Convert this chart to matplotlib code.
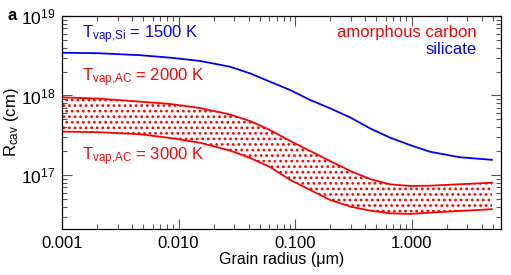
import matplotlib
matplotlib.use("Agg")
import matplotlib.pyplot as plt
from matplotlib.ticker import FixedLocator, FormatStrFormatter, LogLocator, NullFormatter

plt.rcParams['font.family'] = ['Liberation Sans', 'DejaVu Sans']
plt.rcParams['mathtext.fontset'] = 'custom'
plt.rcParams['mathtext.rm'] = 'Liberation Sans'
plt.rcParams['mathtext.it'] = 'Liberation Sans'
plt.rcParams['hatch.linewidth'] = 1.2

# grain radius (micron)
radius = [0.001, 0.0021, 0.0047, 0.0085, 0.0153, 0.0277, 0.041, 0.061, 0.091, 0.135, 0.20,
          0.30, 0.44, 0.65, 0.97, 1.44, 2.6, 4.9]
# cavity radius (cm)
r_si_1500 = [3.45e18, 3.40e18, 3.21e18, 2.99e18, 2.72e18, 2.30e18, 1.90e18, 1.49e18, 1.17e18,
             8.77e17, 6.90e17, 5.26e17, 3.86e17, 2.96e17, 2.38e17, 1.96e17, 1.67e17, 1.55e17]
r_ac_2000 = [9.48e17, 9.12e17, 8.36e17, 7.82e17, 6.96e17, 5.77e17, 4.78e17, 3.68e17, 2.68e17,
             2.00e17, 1.50e17, 1.12e17, 8.9e16, 7.64e16, 7.27e16, 7.33e16, 7.64e16, 8.00e16]
r_ac_3000 = [3.51e17, 3.45e17, 3.25e17, 2.92e17, 2.54e17, 2.03e17, 1.64e17, 1.26e17, 8.65e16,
             6.47e16, 4.85e16, 3.99e16, 3.56e16, 3.30e16, 3.23e16, 3.36e16, 3.52e16, 3.71e16]
xtick_vals = [0.001, 0.01, 0.1, 1.0]

fig = plt.figure(figsize=(5.11, 2.75), dpi=100)
ax = fig.add_axes([62/511, 1-229/275, 439/511, 213/275])

ax.fill_between(radius, r_ac_3000, r_ac_2000, facecolor='none', edgecolor='red',
                hatch='...', linewidth=0)
ax.plot(radius, r_si_1500, color='blue', lw=1.3)
ax.plot(radius, r_ac_2000, color='red', lw=1.3)
ax.plot(radius, r_ac_3000, color='red', lw=1.3)

ax.set_xscale('log')
ax.set_yscale('log')
ax.set_xlim(0.001, 5.86)
ax.set_ylim(2.09e16, 1e19)

ax.xaxis.set_major_locator(FixedLocator(xtick_vals))
ax.xaxis.set_major_formatter(FormatStrFormatter('%.3f'))
ax.xaxis.set_minor_locator(LogLocator(base=10, subs=range(2, 10), numticks=20))
ax.xaxis.set_minor_formatter(NullFormatter())
ax.yaxis.set_major_locator(LogLocator(base=10, numticks=10))
ax.yaxis.set_minor_locator(LogLocator(base=10, subs=range(2, 10), numticks=20))
ax.yaxis.set_minor_formatter(NullFormatter())

ax.tick_params(which='both', direction='in', top=True, right=True,
               width=0.8, color='#555555')
ax.tick_params(axis='x', labelsize=12)
ax.tick_params(axis='y', labelsize=12.5)
ax.tick_params(which='major', length=7, pad=5)
ax.tick_params(which='minor', length=3.5)
for s in ax.spines.values():
    s.set_linewidth(0.9)

ax.set_xlabel('Grain radius (\u03bcm)', fontsize=11.5, labelpad=1)
ax.set_ylabel('R$_{\\mathrm{cav}}$ (cm)', fontsize=12)
ax.yaxis.set_label_coords(-(62 - 21) / 439, 0.5)

fig.text(82/511, 1-35/275, 'T$_{\\mathrm{vap{,}Si}}$ = 1500 K', color='blue', fontsize=12, va='center')
fig.text(82/511, 1-78/275, 'T$_{\\mathrm{vap{,}AC}}$ = 2000 K', color='red', fontsize=12, va='center')
fig.text(82/511, 1-157/275, 'T$_{\\mathrm{vap{,}AC}}$ = 3000 K', color='red', fontsize=12, va='center')
fig.text(477/511, 1-33/275, 'amorphous carbon', color='red', fontsize=12, ha='right', va='center')
fig.text(477/511, 1-49/275, 'silicate', color='blue', fontsize=12, ha='right', va='center')
fig.text(7/511, 1-16/275, 'a', fontsize=12, fontweight='bold', va='center')

fig.savefig('out.png', dpi=100)
